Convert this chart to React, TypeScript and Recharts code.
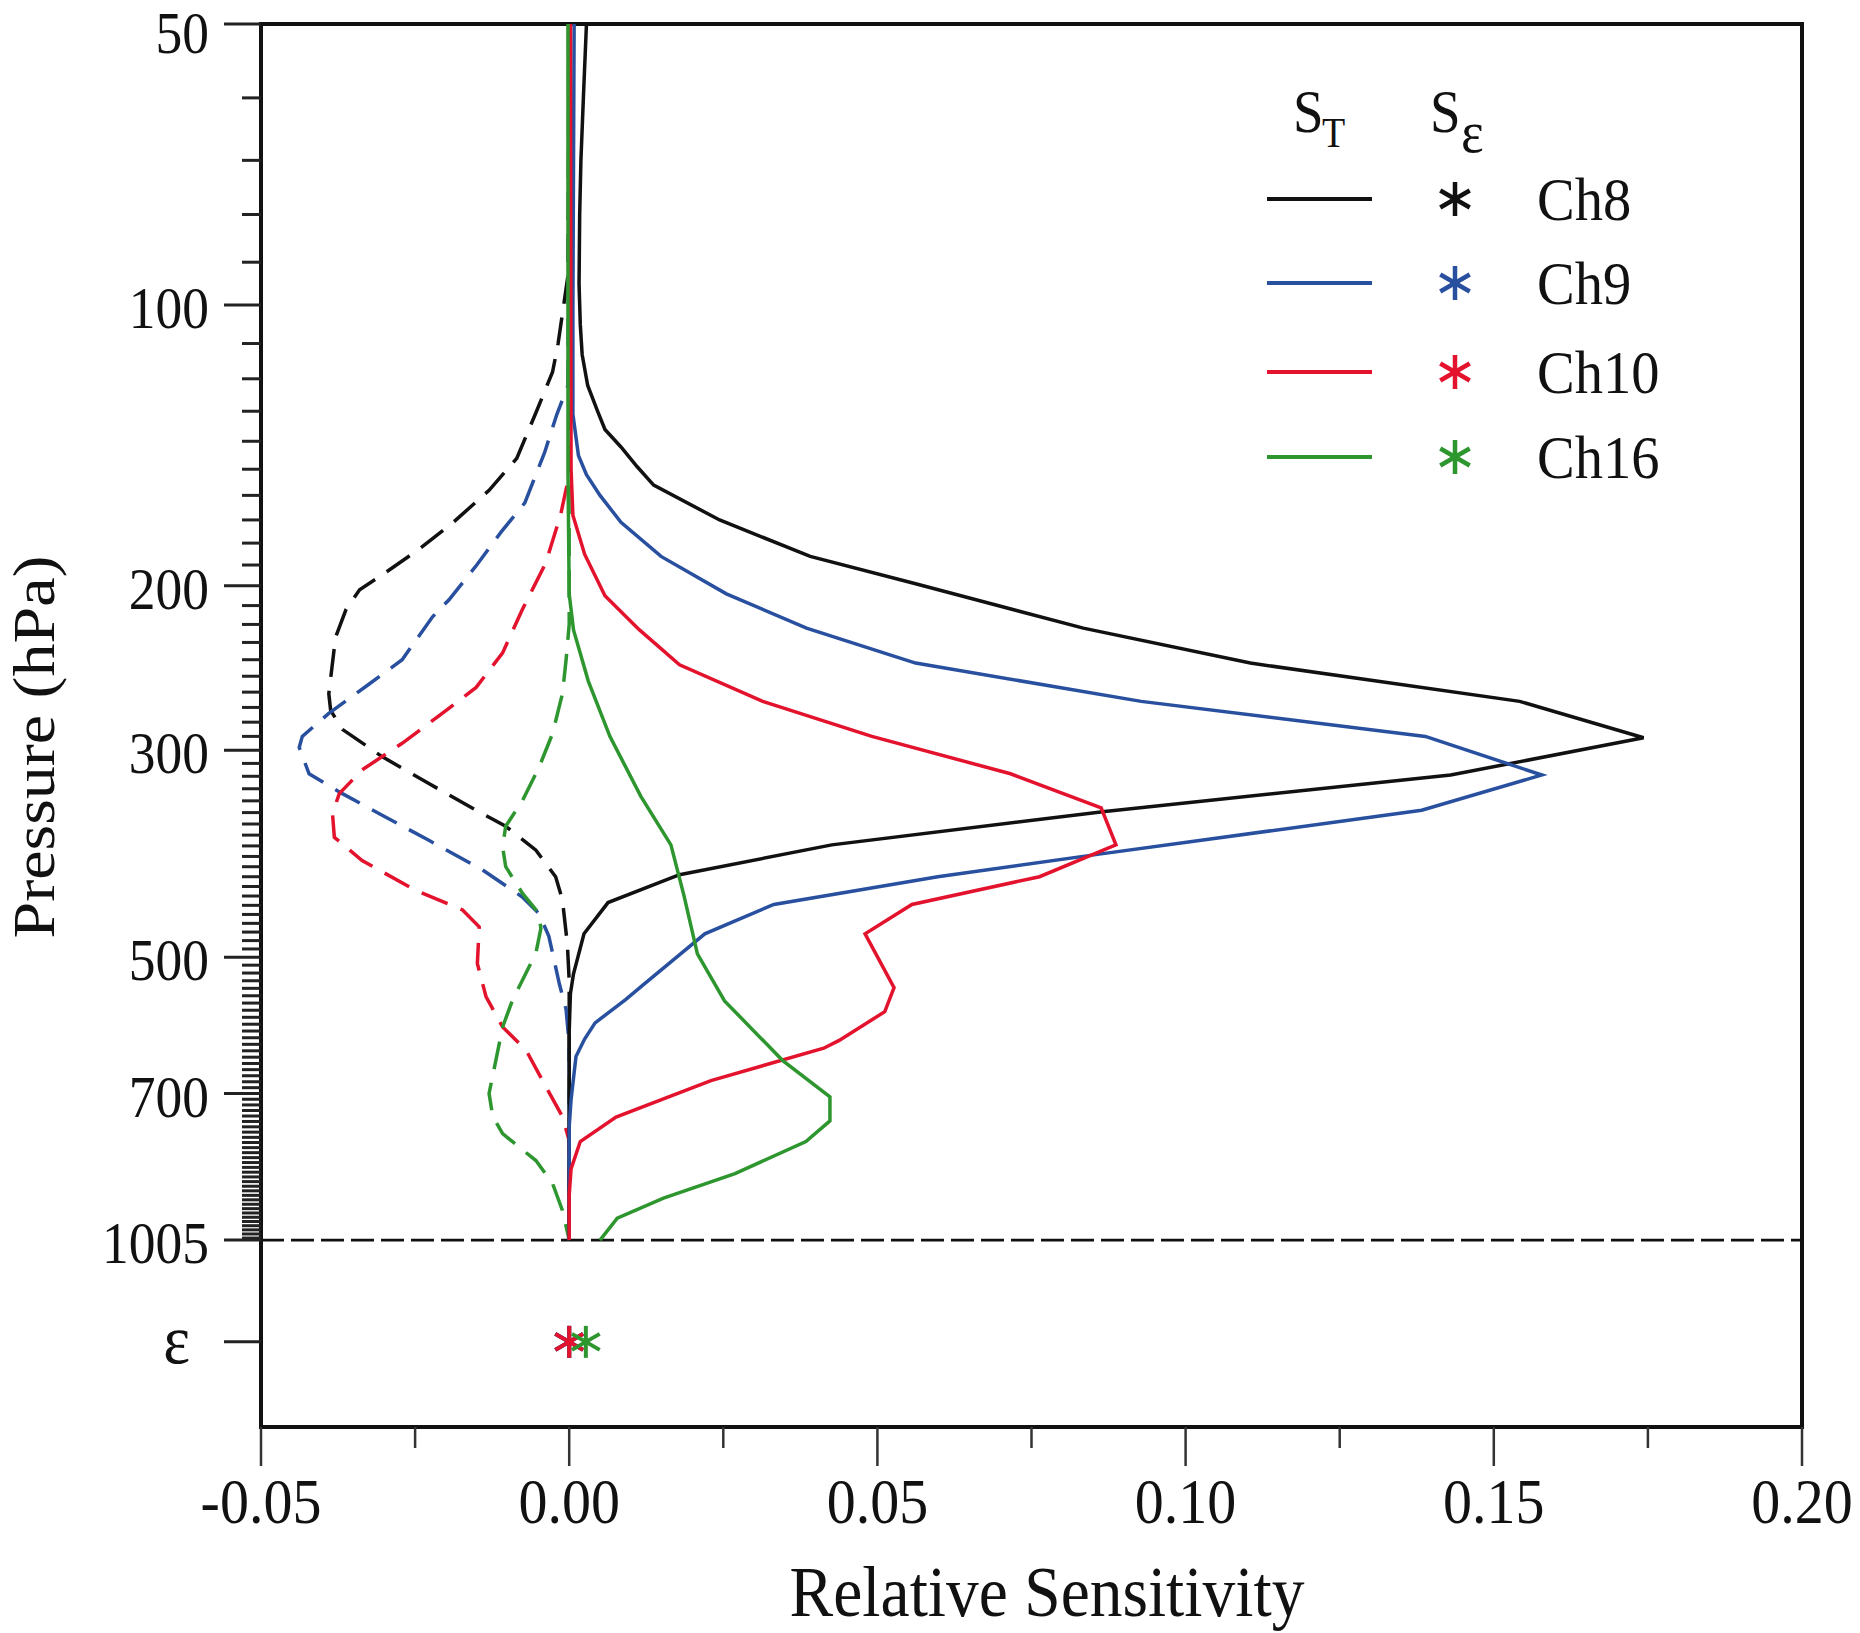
import React from 'react';
import { ScatterChart, Scatter, XAxis, YAxis, ReferenceLine, ReferenceArea, Legend } from 'recharts';

// ---------- axes ----------
const X_MIN = -0.05;
const X_MAX = 0.2;
const P_TOP = 50;
const P_BOTTOM = 1594;
const P_SURFACE = 1005;
const P_EPS_ROW = 1292;

const X_TICKS = [-0.05, -0.025, 0, 0.025, 0.05, 0.075, 0.1, 0.125, 0.15, 0.175, 0.2];
const Y_MAJOR_TICKS = [50, 100, 200, 300, 500, 700, 1005];
const Y_MAJOR_LABELS = ['50', '100', '200', '300', '500', '700', '1005'];
const EPS_LABEL = 'ε';

const Y_MINOR_TICKS: number[] = [];
for (let p = 60; p <= 1000; p += 10) {
  if (!Y_MAJOR_TICKS.includes(p)) Y_MINOR_TICKS.push(p);
}
const Y_TICKS = [...Y_MAJOR_TICKS, ...Y_MINOR_TICKS, P_EPS_ROW];

// ---------- legend ----------
const CHANNELS = ['Ch8', 'Ch9', 'Ch10', 'Ch16'];
const COLORS = ['#111111', '#28509f', '#e3122d', '#2e962e'];

// ---------- data: [pressure (hPa), relative sensitivity] ----------
const CH8_ST: [number, number][] = [
  [50, 0.0028], [60, 0.0023], [70, 0.0019], [80, 0.0017], [95, 0.0016], [105, 0.0018], [113, 0.0021],
  [122, 0.003], [130, 0.0046], [136, 0.0058], [142, 0.0084], [149, 0.011], [156, 0.0137], [170, 0.0244],
  [186, 0.0391], [199, 0.0562], [222, 0.0834], [242, 0.1105], [266, 0.1542], [291, 0.1743], [319, 0.143],
  [349, 0.0869], [379, 0.0426], [408, 0.0179], [437, 0.0063], [472, 0.0024], [521, 0.0007], [547, 0.0002],
  [600, 0], [1005, 0],
];
const CH9_ST: [number, number][] = [
  [50, 0.0008], [100, 0.0006], [131, 0.0006], [145, 0.0015], [152, 0.0028], [160, 0.005], [171, 0.0084],
  [186, 0.0149], [204, 0.0255], [222, 0.0385], [242, 0.0562], [266, 0.0928], [290, 0.1389], [319, 0.1578],
  [348, 0.1383], [388, 0.0857], [410, 0.0598], [439, 0.0332], [472, 0.022], [536, 0.0119], [555, 0.0092],
  [588, 0.0042], [612, 0.0025], [639, 0.0011], [711, 0.0003], [760, 0], [1005, 0],
];
const CH10_ST: [number, number][] = [
  [50, 0.0002], [150, 0.0003], [168, 0.0006], [185, 0.0025], [205, 0.0058], [223, 0.0114], [243, 0.0179],
  [266, 0.0314], [290, 0.0491], [318, 0.0716], [346, 0.0863], [379, 0.0887], [410, 0.0763], [439, 0.0556],
  [472, 0.048], [539, 0.0527], [572, 0.0512], [614, 0.0438], [626, 0.0413], [678, 0.023], [742, 0.0076],
  [788, 0.0018], [843, 0.0003], [900, 0], [1005, 0],
];
const CH16_ST: [number, number][] = [
  [50, -0.0002], [150, -0.0002], [204, 0], [223, 0.0007], [253, 0.0031], [290, 0.0066], [336, 0.0116],
  [379, 0.0165], [429, 0.0186], [496, 0.0208], [557, 0.0252], [645, 0.0346], [706, 0.0423], [749, 0.0423],
  [788, 0.0384], [853, 0.0269], [906, 0.0153], [952, 0.0078], [1005, 0.005],
];

const CH8_DASH: [number, number][] = [
  [50, 0], [93, -0.0002], [110, -0.0018], [118, -0.0027], [130, -0.0053], [146, -0.0085], [158, -0.013],
  [171, -0.0188], [183, -0.0245], [194, -0.03], [202, -0.034], [212, -0.0362], [227, -0.0379], [261, -0.039],
  [272, -0.0387], [285, -0.0368], [305, -0.0303], [326, -0.0227], [348, -0.0151], [362, -0.0103],
  [384, -0.0054], [410, -0.0022], [434, -0.0011], [484, -0.0003], [530, 0], [1005, 0],
];
const CH9_DASH: [number, number][] = [
  [50, 0], [122, -0.0002], [131, -0.002], [144, -0.004], [163, -0.0072], [175, -0.011], [190, -0.015],
  [207, -0.0195], [216, -0.0222], [240, -0.0271], [255, -0.0325], [274, -0.039], [290, -0.0433],
  [298, -0.0438], [318, -0.0422], [334, -0.0368], [351, -0.0308], [375, -0.0227], [403, -0.0141],
  [431, -0.0076], [449, -0.0049], [475, -0.0033], [534, -0.0016], [569, -0.0005], [620, 0], [1005, 0],
];
const CH10_DASH: [number, number][] = [
  [50, 0], [152, 0], [168, -0.0014], [189, -0.0038], [212, -0.0076], [236, -0.0108], [257, -0.0151],
  [274, -0.0206], [295, -0.0271], [315, -0.0336], [334, -0.0373], [351, -0.0384], [372, -0.0381],
  [394, -0.0336], [424, -0.0249], [445, -0.0173], [464, -0.0146], [508, -0.0149], [551, -0.0135],
  [594, -0.0108], [629, -0.007], [688, -0.0038], [741, -0.0011], [786, 0], [1005, 0],
];
const CH16_DASH: [number, number][] = [
  [50, -0.0001], [220, 0], [240, -0.0005], [261, -0.0011], [288, -0.0027], [313, -0.0049], [340, -0.0076],
  [362, -0.0103], [381, -0.0108], [400, -0.0103], [427, -0.0076], [449, -0.0049], [466, -0.0046],
  [495, -0.0054], [512, -0.0065], [556, -0.0092], [594, -0.0108], [645, -0.0119], [700, -0.013],
  [741, -0.0124], [773, -0.0108], [826, -0.0054], [874, -0.0027], [934, -0.0011], [1005, 0],
];

// S_epsilon for each channel (plotted on the ε row)
const S_EPS = [0.0, 0.0, 0.0, 0.0027];

const SOLID = [CH8_ST, CH9_ST, CH10_ST, CH16_ST];
const DASHED = [CH8_DASH, CH9_DASH, CH10_DASH, CH16_DASH];

const toRows = (arr: [number, number][]) => arr.map(([p, v]) => ({ p, v }));

const FONT = '"Liberation Serif", "Times New Roman", serif';
const STRETCH = 1.1;

const Asterisk = ({ cx, cy, r, color, w }: { cx: number; cy: number; r: number; color: string; w: number }) => {
  const dx = r * Math.cos(Math.PI / 6);
  const dy = r * Math.sin(Math.PI / 6);
  return (
    <g stroke={color} strokeWidth={w}>
      <line x1={cx} y1={cy - r} x2={cx} y2={cy + r} />
      <line x1={cx - dx} y1={cy - dy} x2={cx + dx} y2={cy + dy} />
      <line x1={cx - dx} y1={cy + dy} x2={cx + dx} y2={cy - dy} />
    </g>
  );
};

const renderNone = () => <g />;

const renderYTick = (props: any) => {
  const { x, y, payload } = props;
  const val = payload.value;
  const idx = Y_MAJOR_TICKS.indexOf(val);
  const isEps = val === P_EPS_ROW;
  const major = idx >= 0 || isEps;
  const len = major ? 37 : 19;
  const baseline = Math.max(y + 23, 53);
  return (
    <g>
      <line x1={x} y1={y} x2={x - len} y2={y} stroke="#222" strokeWidth={3} />
      {idx >= 0 && (
        <text transform={`translate(${x - 52},${baseline}) scale(1,${STRETCH})`} textAnchor="end" fontSize={53.5} fontFamily={FONT} fill="#111">
          {Y_MAJOR_LABELS[idx]}
        </text>
      )}
      {isEps && (
        <text transform={`translate(${x - 71},${y + 21}) scale(1,${STRETCH})`} textAnchor="end" fontSize={64} fontFamily={FONT} fill="#111">
          {EPS_LABEL}
        </text>
      )}
    </g>
  );
};

const renderXTick = (props: any) => {
  const { x, y, payload } = props;
  const v = payload.value;
  const major = Math.abs(v * 20 - Math.round(v * 20)) < 1e-6;
  return (
    <g>
      <line x1={x} y1={y} x2={x} y2={y + (major ? 39 : 21)} stroke="#333" strokeWidth={2.5} />
      {major && (
        <text transform={`translate(${x},${y + 96}) scale(1,${STRETCH})`} textAnchor="middle" fontSize={58} fontFamily={FONT} fill="#111">
          {v.toFixed(2)}
        </text>
      )}
    </g>
  );
};

const renderXTitle = () => (
  <text transform={`translate(1047,1616) scale(1,${STRETCH})`} textAnchor="middle" fontSize={65.5} fontFamily={FONT} fill="#111">
    Relative Sensitivity
  </text>
);

const renderYTitle = () => (
  <text transform={`translate(54,747) scale(1,${STRETCH}) rotate(-90)`} textAnchor="middle" fontSize={60} fontFamily={FONT} fill="#111">
    Pressure (hPa)
  </text>
);

const renderLegend = () => {
  const rows = [139, 223, 312, 397];
  return (
    <svg width={470} height={470} style={{ overflow: 'visible' }}>
      <g fontFamily={FONT} fill="#111">
        <text transform={`translate(53,72) scale(1,${STRETCH})`} fontSize={55}>S</text>
        <text transform={`translate(82,87) scale(1,${STRETCH})`} fontSize={38}>T</text>
        <text transform={`translate(190,72) scale(1,${STRETCH})`} fontSize={55}>S</text>
        <text transform={`translate(221,92) scale(1,${STRETCH})`} fontSize={54}>ε</text>
      </g>
      {CHANNELS.map((name, i) => (
        <g key={name}>
          <line x1={27} y1={rows[i]} x2={132} y2={rows[i]} stroke={COLORS[i]} strokeWidth={4} />
          <Asterisk cx={215} cy={rows[i]} r={17} color={COLORS[i]} w={4.5} />
          <text transform={`translate(297,${rows[i] + 21}) scale(1,${STRETCH})`} fontSize={56.5} fontFamily={FONT} fill="#111">
            {name}
          </text>
        </g>
      ))}
    </svg>
  );
};

export default function App() {
  return (
    <div style={{ position: 'absolute', left: 0, top: 0, width: 1860, height: 1633, background: '#ffffff' }}>
      <ScatterChart width={1860} height={1633} margin={{ top: 24, right: 58, bottom: 56, left: 61 }}>
        <XAxis
          type="number"
          dataKey="v"
          domain={[X_MIN, X_MAX]}
          allowDataOverflow
          ticks={X_TICKS}
          interval={0}
          tick={renderXTick}
          tickLine={false}
          axisLine={false}
          tickSize={0}
          tickMargin={0}
          height={150}
          label={renderXTitle}
        />
        <YAxis
          type="number"
          dataKey="p"
          scale="log"
          domain={[P_TOP, P_BOTTOM]}
          allowDataOverflow
          reversed
          ticks={Y_TICKS}
          interval={0}
          tick={renderYTick}
          tickLine={false}
          axisLine={false}
          tickSize={0}
          tickMargin={0}
          width={200}
          label={renderYTitle}
        />
        <ReferenceLine y={P_SURFACE} stroke="#111" strokeWidth={2.7} strokeDasharray="23 7" ifOverflow="visible" />
        {DASHED.map((s, i) => (
          <Scatter
            key={`d-${i}`}
            data={toRows(s)}
            fill={COLORS[i]}
            line={{ stroke: COLORS[i], strokeWidth: 3.5, strokeDasharray: '28 14' }}
            lineType="joint"
            shape={renderNone}
            legendType="none"
            isAnimationActive={false}
          />
        ))}
        {SOLID.map((s, i) => (
          <Scatter
            key={`s-${i}`}
            data={toRows(s)}
            fill={COLORS[i]}
            line={{ stroke: COLORS[i], strokeWidth: 3.5 }}
            lineType="joint"
            shape={renderNone}
            legendType="none"
            isAnimationActive={false}
          />
        ))}
        {S_EPS.map((v, i) => (
          <Scatter
            key={`e-${i}`}
            data={[{ v, p: P_EPS_ROW }]}
            fill={COLORS[i]}
            shape={(props: any) => <Asterisk cx={props.cx} cy={props.cy} r={16} color={COLORS[i]} w={4} />}
            legendType="none"
            isAnimationActive={false}
          />
        ))}
        <ReferenceArea x1={X_MIN} x2={X_MAX} y1={P_TOP} y2={P_BOTTOM} fill="none" stroke="#111" strokeWidth={4} ifOverflow="visible" />
        <Legend
          layout="vertical"
          align="center"
          verticalAlign="middle"
          content={renderLegend}
          wrapperStyle={{ left: 1240, top: 60, width: 470, height: 470 }}
        />
      </ScatterChart>
    </div>
  );
}
